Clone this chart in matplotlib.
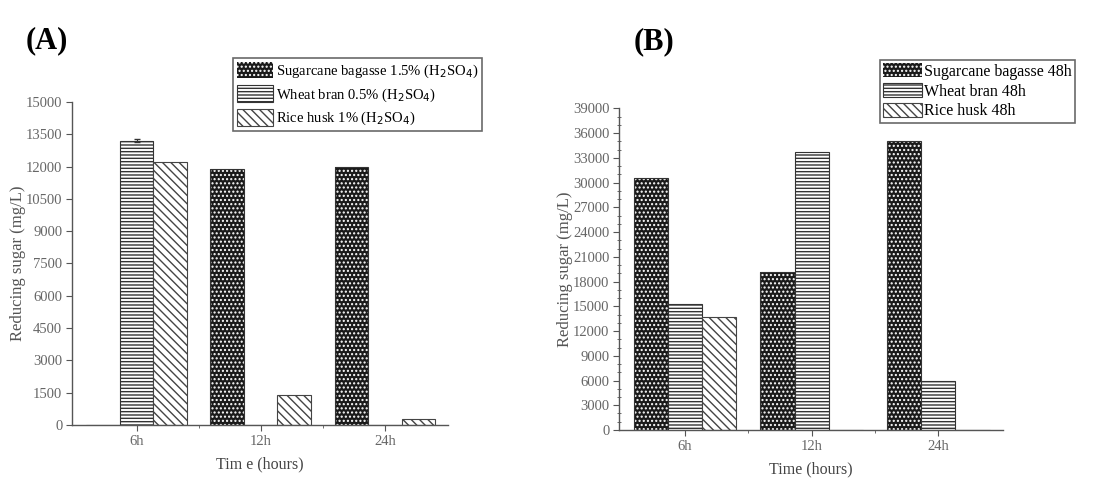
import matplotlib
matplotlib.use("Agg")
import numpy as np
import matplotlib.pyplot as plt
from matplotlib.ticker import MultipleLocator, FixedLocator

plt.rcParams['font.family'] = ['Liberation Serif', 'DejaVu Serif']
plt.rcParams['hatch.linewidth'] = 1.0

# data
times = ['6h', '12h', '24h']

sugarcane_a = [0, 11900, 12000]
wheat_a = [13200, 0, 0]
rice_a = [12200, 1400, 300]
labels_a = ['Sugarcane bagasse 1.5% (H$_2$SO$_4$)',
            'Wheat bran 0.5% (H$_2$SO$_4$)',
            'Rice husk 1% (H$_2$SO$_4$)']

sugarcane_b = [30500, 19100, 35000]
wheat_b = [15250, 33700, 6000]
rice_b = [13750, 0, 0]
labels_b = ['Sugarcane bagasse 48h', 'Wheat bran 48h', 'Rice husk 48h']

fig = plt.figure(figsize=(11.05, 4.8), dpi=100)
axA = fig.add_axes([0.0652, 0.1146, 0.3403, 0.6729])
axB = fig.add_axes([0.5602, 0.1042, 0.3475, 0.6700])

w = 0.27


def draw_bars(ax, s, wh, r, labels):
    x = np.arange(len(times))
    # sugarcane: white dots on black
    hs = ax.bar(x - w, s, w, color='#1a1a1a', edgecolor='white', hatch='....',
                lw=0, label=labels[0])
    ax.bar(x - w, s, w, fill=False, edgecolor='#333333', lw=0.8)
    hw = ax.bar(x, wh, w, color='white', edgecolor='#333333', hatch='-----',
                lw=0.8, label=labels[1])
    hr = ax.bar(x + w, r, w, color='white', edgecolor='#444444', hatch='\\\\\\\\',
                lw=0.8, label=labels[2])
    return hs, hw, hr


def style(ax, top, step, xlab):
    ax.set_xlim(-0.52, 2.51)
    ax.set_ylim(0, top)
    ax.set_xticks(range(len(times)))
    ax.set_xticklabels(times)
    ax.xaxis.set_minor_locator(FixedLocator([0.5, 1.5]))
    ax.yaxis.set_major_locator(MultipleLocator(step))
    ax.spines['top'].set_visible(False)
    ax.spines['right'].set_visible(False)
    for sp in ['left', 'bottom']:
        ax.spines[sp].set_color('#555555')
        ax.spines[sp].set_linewidth(1.0)
    ax.tick_params(axis='both', which='major', length=4, color='#555555',
                   labelsize=10.5, labelcolor='#666666', pad=3)
    ax.tick_params(axis='both', which='minor', length=2, color='#555555')
    ax.set_xlabel(xlab, fontsize=11.5, color='#444444', labelpad=6)
    ax.set_ylabel('Reducing sugar (mg/L)', fontsize=12, color='#555555',
                  labelpad=0)


hA = draw_bars(axA, sugarcane_a, wheat_a, rice_a, labels_a)
axA.errorbar([0], [wheat_a[0]], yerr=[80], fmt='none', ecolor='#333333',
             capsize=2, lw=0.8)
style(axA, 15000, 1500, 'Tim e (hours)')

hB = draw_bars(axB, sugarcane_b, wheat_b, rice_b, labels_b)
style(axB, 39000, 3000, 'Time (hours)')
axB.yaxis.set_minor_locator(MultipleLocator(1000))
axB.tick_params(axis='y', which='minor', direction='inout', length=3)

legA = fig.legend(handles=list(hA), labels=labels_a, loc='upper left',
                  bbox_to_anchor=(233 / 1105, 1 - 58 / 480), fontsize=10.5,
                  frameon=True, fancybox=False, edgecolor='#444444',
                  handlelength=2.5, handleheight=1.4, handletextpad=0.2,
                  labelspacing=0.35, borderpad=0.25, borderaxespad=0)
legA.get_frame().set_linewidth(1.2)

legB = fig.legend(handles=list(hB), labels=labels_b, loc='upper left',
                  bbox_to_anchor=(880 / 1105, 1 - 60 / 480), fontsize=11.5,
                  frameon=True, fancybox=False, edgecolor='#444444',
                  handlelength=2.4, handleheight=1.0, handletextpad=0.15,
                  labelspacing=0.2, borderpad=0.2, borderaxespad=0)
legB.get_frame().set_linewidth(1.2)

fig.text(47 / 1105, 1 - 41 / 480, '(A)', fontsize=22, fontweight='bold',
         ha='center', va='center')
fig.text(654 / 1105, 1 - 42 / 480, '(B)', fontsize=22, fontweight='bold',
         ha='center', va='center')

plt.savefig('out.png', dpi=100)
